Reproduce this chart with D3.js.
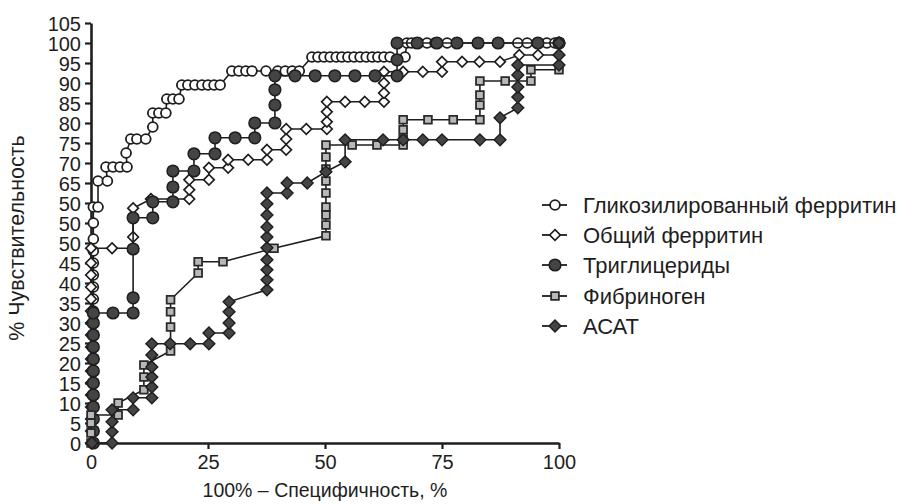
<!DOCTYPE html>
<html>
<head>
<meta charset="utf-8">
<script src="https://cdn.jsdelivr.net/npm/d3@7"></script>
<style>
  html, body { margin: 0; padding: 0; background: #fff; }
  svg { display: block; font-family: "Liberation Sans", Arial, Helvetica, sans-serif; }
</style>
</head>
<body>
<svg id="chart" width="902" height="504"></svg>
<script>
// ---------- data ----------
const seriesNames = ["Гликозилированный ферритин", "Общий ферритин", "Триглицериды", "Фибриноген", "АСАТ"];

const xTickValues = [0, 25, 50, 75, 100];
const yTickValues = [0, 5, 10, 15, 20, 25, 30, 35, 40, 45, 50, 55, 60, 65, 70, 75, 80, 85, 90, 95, 100, 105];
const yTickLabels = ["0", "5", "10", "15", "20", "25", "30", "35", "40", "45", "50", "50", "50", "65", "70", "75", "80", "85", "90", "95", "100", "105"];

const glycFerritin = [
  [0.5,0],[0.5,3],[0.5,6],[0.5,9],[0.5,12],[0.5,15],[0.5,18],[0.5,21],[0.5,24],[0.5,27],[0.5,30],[0.5,33],
  [0.5,36],[0.5,39],[0.5,42],[0.5,45],[0.5,48],[0.5,51],[0.5,55],[0.5,59],
  [1.5,59],[1.5,65.5],[3.5,65.5],[3.2,69],[4.7,69],[6.2,69],[7.7,69],[7.5,72.5],[8.5,76],[9.8,76],[11.7,76],
  [13.2,79],[13.2,82.5],[14.5,82.5],[16,82.5],[16.2,86],[17.5,86],[18.8,86],
  [19.4,89.5],[20.7,89.5],[22.2,89.5],[23.7,89.5],[25,89.5],[26.3,89.5],[27.6,89.5],
  [30.1,93],[31.6,93],[33.1,93],[34.4,93],[37.4,93],[39.9,93],[41.5,93],[43,93],[44.5,93],
  [47.2,96.5],[48.5,96.5],[49.8,96.5],[51.1,96.5],[52.4,96.5],[53.6,96.5],[54.9,96.5],[56.2,96.5],
  [57.5,96.5],[58.8,96.5],[60.1,96.5],[61.3,96.5],[62.6,96.5],[63.9,96.5],[67.1,96.5],
  [67.5,100],[68.5,100],[70,100],[71.8,100],[73.5,100],[76.1,100],[91.2,100],[93.2,100],[95.3,100],[97.4,100],[99.1,100],[100,100]
];

const totalFerritin = [
  [0,0],[0,3],[0,6],[0,9],[0,12],[0,15],[0,18],[0,21],[0,24],[0,27],[0,30],[0,33],[0,36],[0,39],[0,42],[0,45],[0,48.7],
  [4.5,48.7],[9,48.7],[9,51.5],[9,58.7],[12.8,61],[21,61],[21,63.3],[21,65.8],[25.2,65.8],[25.2,68.8],
  [29.3,68.8],[29.3,70.8],[33.6,70.8],[37.6,70.8],[37.6,73.3],[41.7,73.3],[41.7,76],[41.7,78.5],
  [46,78.5],[50.4,78.5],[50.4,80.3],[50.4,82.8],[50.4,85.3],[54.3,85.3],[58.5,85.3],[62.6,85.3],
  [62.6,87.5],[62.6,90],[62.6,92.8],[66.7,92.8],[70.9,92.8],[75,92.8],[75,95.3],[79.3,95.3],[83,95.3],[87.4,95.3],
  [91.5,97],[95.5,97],[100,97],[100,100]
];

const triglycerides = [
  [0.5,0],[0.5,3],[0.5,6],[0.5,9],[0.5,12],[0.5,15],[0.5,18],[0.5,21],[0.5,24],[0.5,27],[0.5,30],[0.5,32.5],
  [4.7,32.5],[9,32.5],[9,36.3],[9,48.5],[9,56.3],[13.2,56.3],[13.2,60.3],[17.5,60.3],[17.5,64],[17.5,68],
  [22,68],[22,72.3],[26.5,72.3],[26.5,76.3],[30.8,76.3],[35,76.3],[35,80],[39.3,80],[39.3,84.5],[39.3,88.3],
  [39.3,91.8],[43.6,91.8],[47.9,91.8],[52.1,91.8],[56.4,91.8],[60.7,91.8],[65.4,91.8],[65.4,95.8],[65.4,100],
  [69.7,100],[73.9,100],[78.2,100],[82.7,100],[87,100],[95.5,100],[100,100]
];

const fibrinogen = [
  [0,0],[0,2.5],[0,5],[0,7],[5.8,7],[5.8,10],[11.3,13.3],[11.3,16.5],[11.3,19.5],[17,23],[17,29],[17,32.8],[17,35.8],
  [22.9,42.5],[22.9,45.3],[28.2,45.3],[39.1,48.7],[50.2,51.8],[50.2,54.5],[50.2,57],[50.2,59],[50.2,62.5],
  [50.2,65.5],[50.2,68.5],[50.2,71.5],[50.2,74.5],[55.8,74.5],[61.1,74.5],[66.7,74.5],[66.7,76],[66.7,78.3],[66.7,80.8],
  [72,80.8],[77.4,80.8],[83.1,80.8],[83.1,84.5],[83.1,87],[83.1,90.5],[88.5,90.5],[94,90.5],[94,93.3],[100,93.3],[100,100]
];

const asat = [
  [0.2,0],[4.5,0],[4.5,2.8],[4.5,5.3],[4.5,8.3],[9,8.3],[9,11.3],[13,11.3],[13,14],[13,16.5],[13,19],[13,22],[13,24.8],
  [16.9,24.8],[21.2,24.8],[25.2,24.8],[25.2,27.5],[29.5,27.5],[29.5,30],[29.5,32.8],[29.5,35.3],
  [37.6,38.3],[37.6,40.8],[37.6,43.3],[37.6,45.8],[37.6,48.8],[37.6,51.5],[37.6,54],[37.6,57],[37.6,59.8],[37.6,62.5],
  [41.9,62.5],[41.9,65],[46.2,65],[50.2,67.8],[54.3,70.3],[54.3,75.8],[62.4,75.8],[66.7,75.8],[70.9,75.8],[75,75.8],
  [83.1,75.8],[87.4,75.8],[87.4,81.3],[91.2,83.8],[91.2,86.5],[91.2,89],[91.2,92],[91.2,94.5],[100,94.5],[100,97],[100,100]
];

// ---------- layout ----------
const svg = d3.select("#chart");
const x = d3.scaleLinear().domain([0, 100]).range([91, 559]);
const y = d3.scaleLinear().domain([0, 105]).range([443, 23]);
const ink = "#1e1e1e";

// axes
const yAxis = d3.axisLeft(y).tickValues(yTickValues)
  .tickFormat((d, i) => yTickLabels[i]).tickSize(6).tickSizeOuter(0);
const xAxis = d3.axisBottom(x).tickValues(xTickValues).tickSize(6).tickSizeOuter(0);

const gy = svg.append("g").attr("transform", "translate(91,0)").call(yAxis);
const gx = svg.append("g").attr("transform", "translate(0,443)").call(xAxis);
[gx, gy].forEach(g => {
  g.select(".domain").attr("stroke", ink).attr("stroke-width", 2.6);
  g.selectAll(".tick line").attr("stroke", ink).attr("stroke-width", 2.2);
  g.selectAll(".tick text").attr("fill", ink).style("font-size", "20px")
    .style("font-family", "'Liberation Sans', Arial, sans-serif");
});
gy.selectAll(".tick text").attr("x", -10).attr("dy", "0.36em");
gx.selectAll(".tick text").attr("y", 12);

// axis titles
svg.append("text").attr("x", 325).attr("y", 497).attr("text-anchor", "middle")
  .attr("fill", ink).style("font-size", "19.5px").text("100% – Специфичность, %");
svg.append("text").attr("transform", "translate(24,238) rotate(-90)").attr("text-anchor", "middle")
  .attr("fill", ink).style("font-size", "21.5px").text("% Чувствительность");

// square diamond symbol (equal diagonals)
const diamondSq = {
  draw(ctx, size) {
    const r = Math.sqrt(size / 2);
    ctx.moveTo(0, -r); ctx.lineTo(r, 0); ctx.lineTo(0, r); ctx.lineTo(-r, 0); ctx.closePath();
  }
};

const styles = [
  { sym: d3.symbolCircle, size: 76, fill: "#ffffff", stroke: ink, sw: 1.8 },
  { sym: diamondSq, size: 56, fill: "#ffffff", stroke: ink, sw: 1.7 },
  { sym: d3.symbolCircle, size: 108, fill: "#444444", stroke: ink, sw: 1.5 },
  { sym: d3.symbolSquare, size: 60, fill: "#b8b8b8", stroke: "#2a2a2a", sw: 1.8 },
  { sym: diamondSq, size: 70, fill: "#444444", stroke: ink, sw: 1.4 }
];
const allSeries = [glycFerritin, totalFerritin, triglycerides, fibrinogen, asat];

const line = d3.line().x(d => x(d[0])).y(d => y(d[1]));
const plot = svg.append("g");

allSeries.forEach((data, i) => {
  const st = styles[i];
  const g = plot.append("g");
  g.append("path").datum(data).attr("d", line).attr("fill", "none")
    .attr("stroke", ink).attr("stroke-width", 1.6);
  g.selectAll("path.m").data(data).join("path").attr("class", "m")
    .attr("transform", d => `translate(${x(d[0])},${y(d[1])})`)
    .attr("d", d3.symbol().type(st.sym).size(st.size))
    .attr("fill", st.fill).attr("stroke", st.stroke).attr("stroke-width", st.sw);
});

// legend
const legendY = [205, 235, 265, 296, 326];
const leg = svg.append("g");
seriesNames.forEach((name, i) => {
  const st = styles[i];
  const cy = legendY[i];
  leg.append("line").attr("x1", 542).attr("x2", 567).attr("y1", cy).attr("y2", cy)
    .attr("stroke", ink).attr("stroke-width", 1.8);
  leg.append("path").attr("transform", `translate(555,${cy})`)
    .attr("d", d3.symbol().type(st.sym).size(st.size))
    .attr("fill", st.fill).attr("stroke", st.stroke).attr("stroke-width", st.sw);
  leg.append("text").attr("x", 583).attr("y", cy).attr("dy", "0.36em")
    .attr("fill", ink).style("font-size", "22px").text(name);
});
</script>
</body>
</html>
